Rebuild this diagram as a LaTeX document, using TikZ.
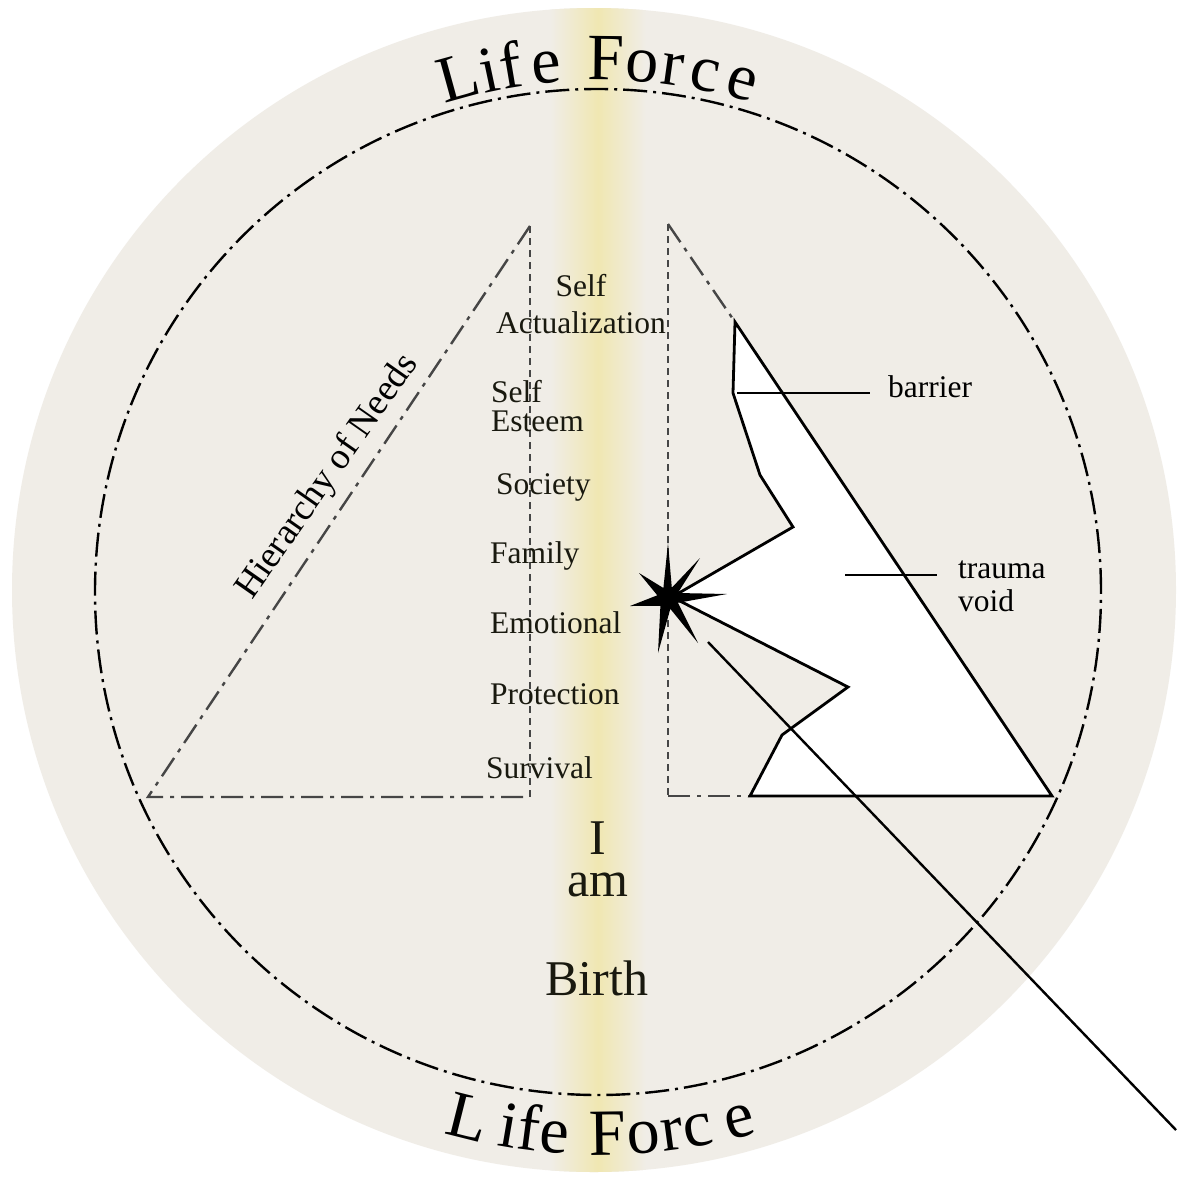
\documentclass[tikz,border=0pt]{standalone}
\usepackage{fontspec}
\setmainfont{Liberation Serif}
\usetikzlibrary{calc}
\definecolor{bgdisc}{RGB}{240,237,231}
\definecolor{bandy}{RGB}{240,231,178}
\definecolor{guide}{RGB}{70,70,70}
\definecolor{inkc}{RGB}{25,25,15}
\begin{document}
\begin{tikzpicture}[x=1pt,y=1pt,
  lbl/.style={font=\fontsize{31.5}{33}\selectfont, text=inkc, inner sep=0pt, anchor=base west},
  big/.style={font=\fontsize{50}{52}\selectfont, text=inkc, inner sep=0pt, anchor=base},
  lf/.style={font=\fontsize{66}{70}\selectfont, text=black, inner sep=0pt, anchor=base},
  guidedash/.style={draw=guide, line width=2.6pt, dash pattern=on 7pt off 5pt},
  guidedot/.style={draw=guide, line width=2.4pt, dash pattern=on 22pt off 7pt on 4pt off 7pt},
  solidln/.style={draw=black, line width=2.8pt, line join=miter},
  thinln/.style={draw=black, line width=2.4pt},
  circdot/.style={draw=black, line width=2.4pt, dash pattern=on 24pt off 6pt on 3pt off 6pt}
]
\useasboundingbox (0,0) rectangle (1176,-1178);
\fill[white] (0,0) rectangle (1176,-1178);
% background disc with vertical golden band
\coordinate (dc) at (594,-590);
\fill[bgdisc] (dc) circle[radius=582];
\begin{scope}
  \clip (dc) circle[radius=582];
  \shade[left color=bgdisc, right color=bgdisc, middle color=bandy] (550,0) rectangle (646,-1178);
\end{scope}
% dash-dot ring
\coordinate (rc) at (598,-592);
\draw[circdot] (rc) circle[radius=503];

% left triangle (hierarchy of needs)
\coordinate (lA) at (530,-226);
\coordinate (lB) at (148,-797);
\coordinate (lC) at (530,-797);
\draw[guidedot] (lA) -- (lB) -- (lC);
\draw[guidedash] (lA) -- (lC);

% right triangle
\coordinate (rA) at (668,-224);
\coordinate (rC) at (668,-796);
\coordinate (rT) at (735,-322);
\coordinate (rV) at (750,-796);
\coordinate (rB) at (1052,-796);
\draw[guidedash] (rA) -- (rC);
\draw[guidedot] (rA) -- (rT);
\draw[guidedot] (rC) -- (rV);

% trauma void
\coordinate (sc) at (668,-598);
\filldraw[fill=white, solidln] (rT) -- (733,-393) -- (760,-475) -- (793,-527) -- (672,-597)
  -- (848,-687) -- (782,-735) -- (rV) -- (rB) -- cycle;

% long line
\coordinate (lnS) at (708,-642);
\coordinate (lnE) at (1176,-1130);
\draw[thinln] (lnS) -- (lnE);

% star
\fill[black] (668,-543) -- (671.8,-587.7) -- (700,-558) -- (677.8,-593) -- (727,-594)
  -- (677.9,-602.8) -- (698,-643) -- (670.3,-608.8) -- (658,-653) -- (660.4,-605.9)
  -- (630,-606) -- (657.3,-595.3) -- (639,-573) -- (663.4,-588) -- cycle;

% barrier label
\coordinate (bS) at (737,-393);
\coordinate (bE) at (870,-393);
\draw[thinln] (bS) -- (bE);
\node[lbl, text=black] (barrier) at ([xshift=18pt,yshift=-4pt]bE) {barrier};

% trauma void label
\coordinate (tS) at (845,-575);
\coordinate (tE) at (937,-575);
\draw[thinln] (tS) -- (tE);
\node[lbl, text=black] (trauma) at ([xshift=21pt,yshift=-3pt]tE) {trauma};
\node[lbl, text=black] (void) at ([yshift=-33pt]trauma.base west) {void};

% needs labels
\node[lbl, anchor=base] (selfA) at (581,-296) {Self};
\node[lbl, anchor=base] (actual) at (581,-333) {Actualization};
\node[lbl] (selfE) at (491,-402) {Self};
\node[lbl] (esteem) at (491,-431) {Esteem};
\node[lbl] (society) at (496,-494) {Society};
\node[lbl] (family) at (490,-563) {Family};
\node[lbl] (emot) at (490,-633) {Emotional};
\node[lbl] (prot) at (490,-704) {Protection};
\node[lbl] (surv) at (486,-778) {Survival};

% I am / Birth
\node[big] (iI) at (598,-854) {I};
\node[big] (am) at (598,-896) {am};
\node[big] (birth) at (597,-995) {Birth};

% Hierarchy of Needs
\node[font=\fontsize{37}{40}\selectfont, text=black, inner sep=0pt, rotate=55] (hier) at (328,-477) {Hierarchy of Needs};

% Life Force, top and bottom
\coordinate (tc) at (600,-592);
\foreach \ch/\ph [count=\k] in {L/-15.4, i/-12.0, f/-9.6, e/-5.8, F/0.6, o/4.6, r/7.9, c/11.5, e/15.6}
  \node[lf, rotate=-\ph, name=ltop\k] at ($(tc)+(90-\ph:512)$) {\ch};
\foreach \ch/\ph [count=\k] in {L/-14.1, i/-9.7, f/-7.5, e/-4.8, F/0.8, o/4.6, r/7.6, c/10.3, e/14.8}
  \node[lf, rotate=\ph, name=lbot\k] at ($(tc)+(270+\ph:563)$) {\ch};
\end{tikzpicture}
\end{document}
